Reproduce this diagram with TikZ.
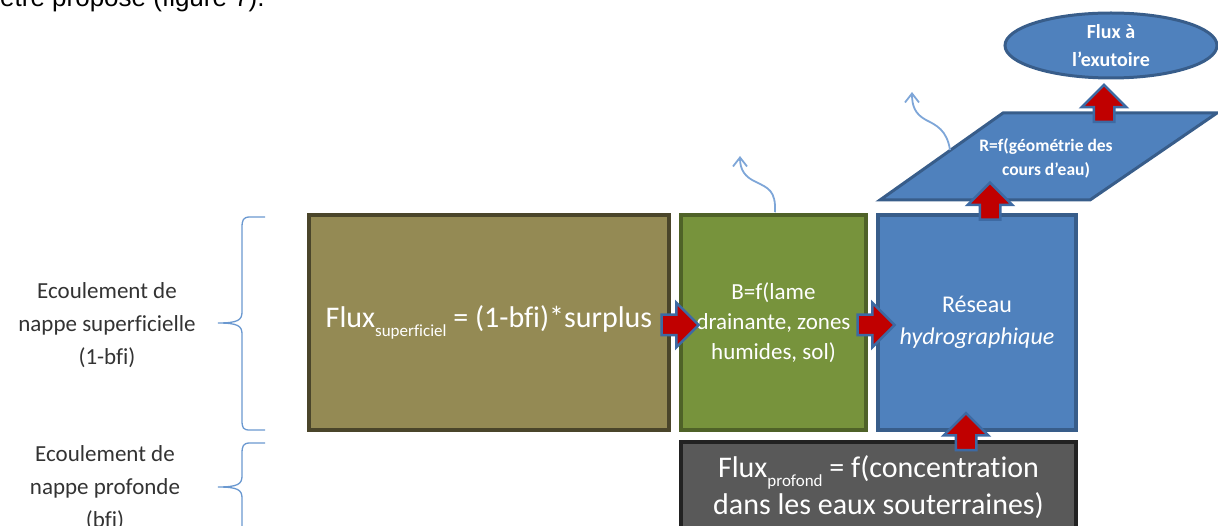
\documentclass[tikz,border=0pt]{standalone}
\usepackage{fontspec}
\setmainfont[Ligatures=NoCommon]{Carlito}
\newfontfamily\arialfont{Liberation Sans}
\usetikzlibrary{shapes.geometric,shapes.arrows,arrows.meta,calc}
\definecolor{brownfill}{HTML}{948A54}
\definecolor{browndraw}{HTML}{4A452A}
\definecolor{greenfill}{HTML}{77933C}
\definecolor{greendraw}{HTML}{4F6228}
\definecolor{bluefill}{HTML}{4F81BD}
\definecolor{bluedraw}{HTML}{385D8A}
\definecolor{greyfill}{HTML}{595959}
\definecolor{greydraw}{HTML}{222222}
\definecolor{arrowred}{HTML}{C00000}
\definecolor{arrowblue}{HTML}{3D6AA3}
\definecolor{bracecol}{HTML}{6A98D0}
\definecolor{curlcol}{HTML}{7EA6D8}
\definecolor{labelcol}{HTML}{333333}
\begin{document}
\begin{tikzpicture}[x=1pt,y=-1pt,
  box/.style={rectangle, line width=3.5pt, text=white, align=center, inner sep=0pt},
  bigtext/.style={font=\fontsize{30}{37}\selectfont},
  midtext/.style={font=\fontsize{23}{30}\selectfont},
  blockarrow/.style={single arrow, draw=arrowblue, fill=arrowred, line width=2.5pt,
    inner sep=9pt, single arrow head extend=12pt, minimum height=37pt},
  uparrow/.style={blockarrow, shape border rotate=90},
  curl/.style={draw=curlcol, line width=1.8pt, -{Straight Barb[length=9pt,width=14pt,line width=1.8pt]}},
  brace/.style={draw=bracecol, line width=1.3pt},
  sidelabel/.style={text=labelcol, align=center, font=\fontsize{23}{33}\selectfont}]
\useasboundingbox (0,0) rectangle (1218,526);
\clip (0,0) rectangle (1218,526);

% partially visible top text
\node[anchor=base west, inner sep=0pt, font=\arialfont\fontsize{26}{30}\selectfont, text=black] (toptext) at (0,7) {être proposé (figure 7).};

% main boxes
\node[box, bigtext, fill=brownfill, draw=browndraw, minimum width=360pt, minimum height=215pt] (brown) at (489,322.5)
  {Flux\raisebox{-0.3em}{\fontsize{17}{17}\selectfont superficiel} = (1-bfi)*surplus};
\node[box, midtext, fill=greenfill, draw=greendraw, minimum width=185pt, minimum height=215pt] (green) at (773.5,322.5)
  {B=f(lame\\drainante, zones\\humides, sol)};
\node[box, font=\fontsize{24}{32}\selectfont, fill=bluefill, draw=bluedraw, minimum width=198pt, minimum height=215pt] (blue) at (977,322.5)
  {Réseau\\\textit{hydrographique}};
\node[box, bigtext, fill=greyfill, draw=greydraw, minimum width=395pt, minimum height=90pt] (grey) at (878.5,487)
  {Flux\raisebox{-0.3em}{\fontsize{17}{17}\selectfont profond} = f(concentration\\dans les eaux souterraines)};

% parallelogram
\coordinate (pBL) at (880,200);
\coordinate (pBR) at (1090,200);
\coordinate (pTR) at (1217,113);
\coordinate (pTL) at (1003,113);
\draw[fill=bluefill, draw=bluedraw, line width=3pt, line join=miter] (pBL) -- (pBR) -- (pTR) -- (pTL) -- cycle;
\node[text=white, align=center, font=\bfseries\fontsize{17.5}{24}\selectfont, inner sep=0pt] (para) at (1046,158)
  {R=f(géométrie des\\cours d'eau)};

% ellipse
\node[ellipse, fill=bluefill, draw=bluedraw, line width=3pt, minimum width=212pt, minimum height=65pt,
  text=white, align=center, inner sep=0pt, font=\bfseries\fontsize{20}{28}\selectfont] (exut) at (1111,45.5)
  {Flux à\\l'exutoire};

% block arrows
\node[blockarrow] (a1) at ($(brown.east)!0.5!(green.west)+(0,2.5)$) {};
\node[blockarrow] (a2) at ($(green.east)!0.5!(blue.west)+(-1,2.5)$) {};
\node[uparrow] (a3) at ($(blue.south)+(-11,5)$) {};
\node[uparrow] (a4) at ($(blue.north)+(13,-7)$) {};
\node[uparrow] (a5) at ($(exut.south)+(-7,29)$) {};

% curly arrows
\coordinate (c1s) at ($(green.north)+(1.5,-1)$);
\coordinate (c1e) at (740,156);
\draw[curl] (c1s) .. controls +(1,-22) and (768,188) .. (756,182) .. controls (745,177) and (740,170) .. (c1e);
\coordinate (c2s) at (950,150);
\coordinate (c2e) at (912,92);
\draw[curl] (c2s) .. controls (947,130) and (936,125) .. (926,120) .. controls (915,114) and (912,106) .. (c2e);

% braces
\draw[brace] (265,217) -- (250,217) .. controls (243,217) and (242,220) .. (242,228) -- (242,312)
  .. controls (242,320) and (238,323) .. (218,323) .. controls (238,323) and (242,326) .. (242,334)
  -- (242,420) .. controls (242,428) and (243,430) .. (250,430) -- (265,430);
\draw[brace] (265,443) -- (250,443) .. controls (243,443) and (242,446) .. (242,454) -- (242,476)
  .. controls (242,484) and (238,487) .. (218,487) .. controls (238,487) and (242,490) .. (242,498)
  -- (242,540);

% side labels
\node[sidelabel] (lab1) at (107,325) {Ecoulement de\\nappe superficielle\\(1-bfi)};
\node[sidelabel] (lab2) at (105,488) {Ecoulement de\\nappe profonde\\(bfi)};
\end{tikzpicture}
\end{document}
